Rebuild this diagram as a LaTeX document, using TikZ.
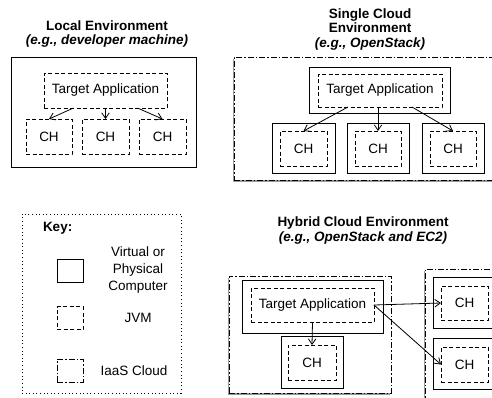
\documentclass[tikz,border=0pt]{standalone}
\usepackage{fontspec}
\setmainfont{Liberation Sans}
\usetikzlibrary{arrows.meta,shadows}
\begin{document}
\begin{tikzpicture}[x=1pt,y=-1pt,
  every node/.style={inner sep=0pt,outer sep=0pt,font=\fontsize{13.5}{15}\selectfont},
  vmbox/.style={draw,line width=0.9pt,rectangle},
  jvmbox/.style={draw,line width=0.9pt,rectangle,dash pattern=on 4pt off 2.5pt},
  cloudbox/.style={draw,line width=0.9pt,rectangle,fill=white,
    dash pattern=on 6pt off 2pt on 1.5pt off 2pt,
    drop shadow={shadow xshift=-0.6pt,shadow yshift=-2pt,fill=black,opacity=0.4}},
  keyframe/.style={draw,line width=0.9pt,rectangle,dash pattern=on 1pt off 2.6pt},
  title/.style={align=center,font=\fontsize{13.5}{14.5}\selectfont\bfseries},
  arr/.style={draw,line width=0.8pt,-{Straight Barb[length=5.5pt,width=7.5pt]}}
]
\useasboundingbox (0,0) rectangle (492,397);
\clip (0,0) rectangle (492,397);

% ---------- Local environment ----------
\node[title] (t1) at (107,34) {Local Environment\\\textit{(e.g., developer machine)}};
\node[vmbox,minimum width=185,minimum height=110] (env1) at (103.5,112) {};
\node[jvmbox,minimum width=123,minimum height=35] (ta1) at (105.5,90.5) {Target Application};
\node[jvmbox,minimum width=46,minimum height=35] (ch1a) at (49,136.5) {CH};
\node[jvmbox,minimum width=47,minimum height=35] (ch1b) at (105.5,136.5) {CH};
\node[jvmbox,minimum width=47,minimum height=35] (ch1c) at (162.5,136.5) {CH};
\draw[arr] ([xshift=-32pt]ta1.south) -- (ch1a.north);
\draw[arr] (ta1.south) -- (ch1b.north);
\draw[arr] ([xshift=32pt]ta1.south) -- (ch1c.north);

% ---------- Single cloud environment ----------
\node[title] (t2) at (370,29.5) {Single Cloud\\Environment\\\textit{(e.g., OpenStack)}};
\node[cloudbox,minimum width=276,minimum height=123] (env2) at (372,118.5) {};
\node[vmbox,minimum width=141,minimum height=46] (vm2) at (379.5,90) {};
\node[jvmbox,minimum width=124,minimum height=33] (ta2) at (380,90.5) {Target Application};
\node[vmbox,minimum width=63,minimum height=50] (vm2a) at (303.5,148) {};
\node[jvmbox,minimum width=47,minimum height=35] (ch2a) at (303.5,148.5) {CH};
\node[vmbox,minimum width=62,minimum height=50] (vm2b) at (378,148) {};
\node[jvmbox,minimum width=46,minimum height=35] (ch2b) at (378,148.5) {CH};
\node[vmbox,minimum width=62,minimum height=50] (vm2c) at (453,148) {};
\node[jvmbox,minimum width=46,minimum height=35] (ch2c) at (453,148.5) {CH};
\draw[arr] ([xshift=-32pt]ta2.south) -- (ch2a.north);
\draw[arr] ([xshift=-2pt]ta2.south) -- (ch2b.north);
\draw[arr] ([xshift=32pt]ta2.south) -- (ch2c.north);

% ---------- Key ----------
\node[keyframe,minimum width=159,minimum height=179] (key) at (101.5,303.5) {};
\node[anchor=west,font=\fontsize{13.5}{15}\selectfont\bfseries] (keyt) at (43,228) {Key:};
\node[vmbox,minimum width=26,minimum height=23] (kvm) at (70,270.5) {};
\node[jvmbox,minimum width=26,minimum height=23] (kjvm) at (70,318) {};
\node[draw,line width=0.9pt,rectangle,dash pattern=on 6pt off 2pt on 1.5pt off 2pt,
      minimum width=26,minimum height=23] (kcloud) at (70,370.5) {};
\node[align=center,font=\fontsize{13.5}{17}\selectfont] (lvm) at (138,270) {Virtual or\\Physical\\Computer};
\node (ljvm) at (138,318) {JVM};
\node (lcloud) at (134,371) {IaaS Cloud};

% ---------- Hybrid cloud environment ----------
\node[title] (t3) at (363,230.5) {Hybrid Cloud Environment\\\textit{(e.g., OpenStack and EC2)}};
\node[cloudbox,minimum width=162,minimum height=117] (env3a) at (310,334.5) {};
\node[cloudbox,minimum width=95,minimum height=151] (env3b) at (472.5,344.5) {};
\node[vmbox,minimum width=141,minimum height=53] (vm3) at (312.5,306.5) {};
\node[jvmbox,minimum width=123,minimum height=34] (ta3) at (312.5,305) {Target Application};
\node[vmbox,minimum width=62,minimum height=52] (vm3a) at (312,362) {};
\node[jvmbox,minimum width=48,minimum height=35] (ch3a) at (312,362.5) {CH};
\node[vmbox,minimum width=63,minimum height=51] (vm3b) at (464.5,302.5) {};
\node[jvmbox,minimum width=47,minimum height=34] (ch3b) at (464.5,303) {CH};
\node[vmbox,minimum width=63,minimum height=51] (vm3c) at (464.5,363.5) {};
\node[jvmbox,minimum width=47,minimum height=35] (ch3c) at (464.5,364.5) {CH};
\draw[arr] (ta3.south) -- (ch3a.north);
\draw[arr] (ta3.east) -- (ch3b.west);
\draw[arr] (ta3.east) -- (ch3c.west);
\end{tikzpicture}
\end{document}
